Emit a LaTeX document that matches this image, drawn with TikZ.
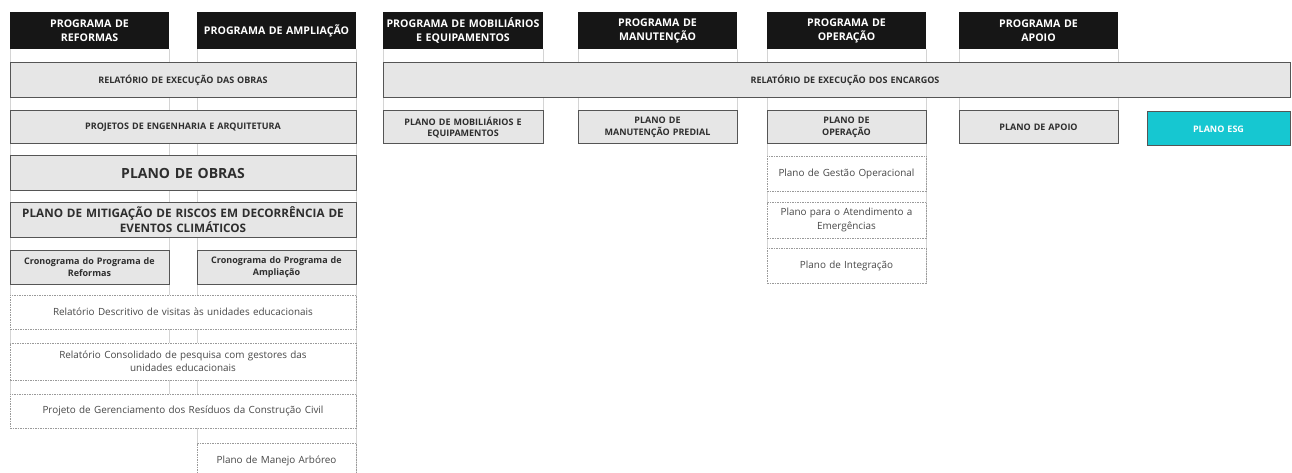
\documentclass[tikz,border=0pt]{standalone}
\usepackage{fontspec}
\setmainfont{Open Sans}
\definecolor{hdr}{HTML}{161616}
\definecolor{boxfill}{HTML}{E6E6E6}
\definecolor{boxline}{HTML}{555555}
\definecolor{boxtext}{HTML}{2E2E2E}
\definecolor{guide}{HTML}{D4D4D4}
\definecolor{esg}{HTML}{16C7D1}
\definecolor{dashline}{HTML}{9A9A9A}
\definecolor{dashtext}{HTML}{484848}
\tikzset{
  base/.style={rectangle, align=center, inner xsep=3pt, inner ysep=0pt, outer sep=0pt},
  header/.style={base, fill=hdr, text=white, font=\bfseries\fontsize{10.6}{14}\selectfont},
  graybox/.style={base, fill=boxfill, draw=boxline, line width=1pt, text=boxtext, font=\bfseries\fontsize{9}{11.5}\selectfont},
  bigbox/.style={graybox, font=\bfseries\fontsize{14}{16}\selectfont},
  midbox/.style={graybox, font=\bfseries\fontsize{11.7}{15}\selectfont},
  cronbox/.style={graybox, font=\bfseries\fontsize{9}{12}\selectfont},
  esgbox/.style={graybox, fill=esg, text=white},
  dashbox/.style={base, fill=white, draw=dashline, line width=0.6pt, dash pattern=on 1.5pt off 1pt, text=dashtext, font=\fontsize{9.9}{13.3}\selectfont},
  guideline/.style={draw=guide, line width=0.8pt}
}
\newcommand{\bx}[7]{%
  \pgfmathsetmacro{\bw}{#5-#3}%
  \pgfmathsetmacro{\bh}{#6-#4}%
  \pgfmathsetmacro{\tw}{#5-#3-6}%
  \pgfmathsetmacro{\bcx}{(#3+#5)/2}%
  \pgfmathsetmacro{\bcy}{(#4+#6)/2}%
  \node[#2, minimum width=\bw pt, minimum height=\bh pt, text width=\tw pt] (#1) at (\bcx,\bcy) {#7};}
\begin{document}
\begin{tikzpicture}[x=1pt,y=-1pt]
\clip (0,0) rectangle (1292,473);
\fill[white] (0,0) rectangle (1292,473);
% column guide lines
\draw[guideline] (10,49) -- (10,428);
\draw[guideline] (169,49) -- (169,428);
\draw[guideline] (197,49) -- (197,473);
\draw[guideline] (356,49) -- (356,473);
\draw[guideline] (383,49) -- (383,144);
\draw[guideline] (543,49) -- (543,144);
\draw[guideline] (578,49) -- (578,144);
\draw[guideline] (737,49) -- (737,144);
\draw[guideline] (767,49) -- (767,283);
\draw[guideline] (926,49) -- (926,283);
\draw[guideline] (959,49) -- (959,144);
\draw[guideline] (1118,49) -- (1118,144);
% headers
\bx{hRef}{header}{10}{12}{169}{49}{PROGRAMA DE\\REFORMAS}
\bx{hAmp}{header}{197}{12}{356}{49}{PROGRAMA DE AMPLIAÇÃO}
\bx{hMob}{header}{383}{12}{543}{49}{PROGRAMA DE MOBILIÁRIOS\\E EQUIPAMENTOS}
\bx{hMan}{header}{578}{12}{737}{49}{PROGRAMA DE\\MANUTENÇÃO}
\bx{hOpe}{header}{767}{12}{926}{49}{PROGRAMA DE\\OPERAÇÃO}
\bx{hApo}{header}{959}{12}{1118}{49}{PROGRAMA DE\\APOIO}
% row 2
\bx{relObras}{graybox}{10}{63}{356}{98}{RELATÓRIO DE EXECUÇÃO DAS OBRAS}
\bx{relEnc}{graybox}{383}{63}{1290}{98}{\hspace*{17pt}RELATÓRIO DE EXECUÇÃO DOS ENCARGOS}
% row 3
\bx{projEng}{graybox}{10}{111}{356}{144}{PROJETOS DE ENGENHARIA E ARQUITETURA}
\bx{plMob}{graybox}{383}{111}{543}{144}{PLANO DE MOBILIÁRIOS E\\EQUIPAMENTOS}
\bx{plMan}{graybox}{578}{111}{737}{144}{PLANO DE\\MANUTENÇÃO PREDIAL}
\bx{plOpe}{graybox}{767}{111}{926}{144}{PLANO DE\\OPERAÇÃO}
\bx{plApo}{graybox}{959}{111}{1118}{144}{PLANO DE APOIO}
\bx{plEsg}{esgbox}{1147}{112}{1290}{146}{PLANO ESG}
% left column
\bx{plObras}{bigbox}{10}{156}{356}{191}{PLANO DE OBRAS}
\bx{plMit}{midbox}{10}{202}{356}{237}{PLANO DE MITIGAÇÃO DE RISCOS EM DECORRÊNCIA DE\\EVENTOS CLIMÁTICOS}
\bx{cronRef}{cronbox}{10}{250}{169}{284}{Cronograma do Programa de\\Reformas}
\bx{cronAmp}{cronbox}{197}{250}{356}{284}{Cronograma do Programa de\\Ampliação}
\bx{relDesc}{dashbox}{10}{295}{356}{329}{Relatório Descritivo de visitas às unidades educacionais}
\bx{relCons}{dashbox}{10}{343}{356}{380}{Relatório Consolidado de pesquisa com gestores das\\unidades educacionais}
\bx{projGer}{dashbox}{10}{394}{356}{428}{Projeto de Gerenciamento dos Resíduos da Construção Civil}
\bx{manejo}{dashbox}{197}{443}{356}{479}{Plano de Manejo Arbóreo}
% operacao column
\bx{gestOp}{dashbox}{767}{156}{926}{191}{Plano de Gestão Operacional}
\bx{atend}{dashbox}{767}{202}{926}{238}{Plano para o Atendimento a\\Emergências}
\bx{integ}{dashbox}{767}{248}{926}{283}{Plano de Integração}
\end{tikzpicture}
\end{document}
